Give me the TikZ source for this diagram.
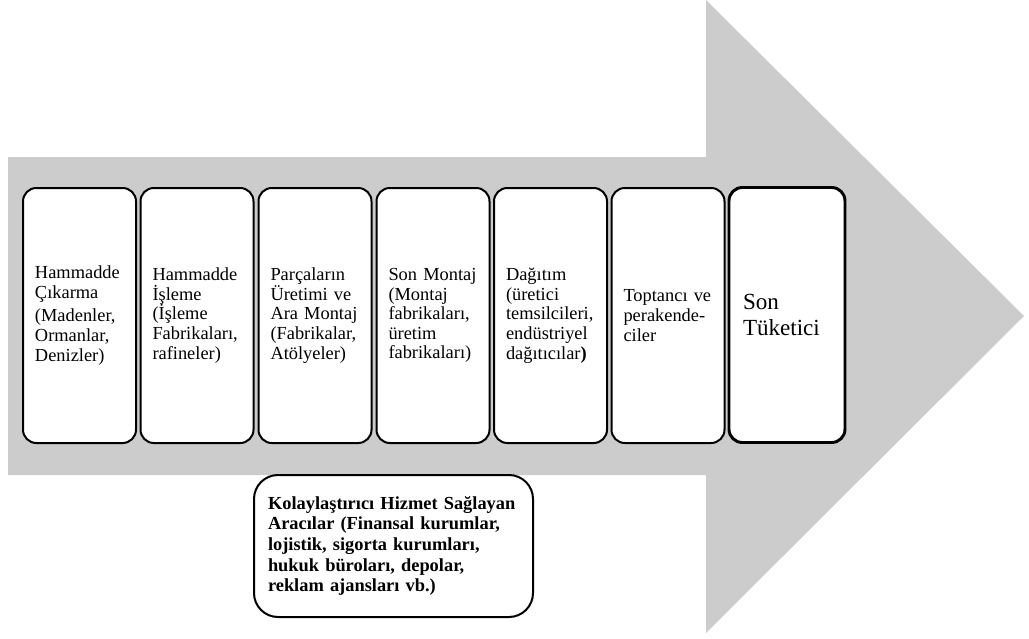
\documentclass[tikz,border=0pt]{standalone}
\usepackage{fontspec}
\setmainfont{Liberation Serif}
\definecolor{arrowgray}{RGB}{204,204,204}
\begin{document}
\begin{tikzpicture}[x=0.75pt,y=-0.75pt,
  stagebox/.style={draw=black, line width=1.5pt, fill=white, rounded corners=10pt,
    minimum height=191.25pt, text width=66.75pt, inner xsep=9pt, inner ysep=0pt,
    align=left, font=\fontsize{13.8}{14.7}\selectfont},
  lastbox/.style={stagebox, line width=2.2pt, text width=66pt, inner xsep=10.5pt,
    font=\fontsize{17.3}{20.2}\selectfont},
  servicebox/.style={draw=black, line width=1.5pt, fill=white, rounded corners=18pt,
    minimum height=106.5pt, text width=188.25pt, inner xsep=10.5pt, inner ysep=0pt,
    align=left, font=\fontsize{13.8}{15.4}\selectfont\bfseries}]
\useasboundingbox (0,0) rectangle (1029,639);
\fill[arrowgray] (8,157) -- (706,157) -- (706,0) -- (1024,316) -- (706,633)
  -- (706,475) -- (8,475) -- cycle;
\node[stagebox] (s1) at (79.5,315.5) {Hammadde\\Çıkarma\\[3pt](Madenler,\\Ormanlar,\\Denizler)};
\node[stagebox] (s2) at (197,315.5) {Hammadde\\İşleme\\(İşleme\\Fabrikaları,\\rafineler)};
\node[stagebox] (s3) at (315,315.5) {Parçaların\\Üretimi ve\\Ara Montaj\\(Fabrikalar,\\Atölyeler)};
\node[stagebox] (s4) at (433,315.5) {Son Montaj\\(Montaj\\fabrikaları,\\üretim\\fabrikaları)};
\node[stagebox] (s5) at (550.5,315.5) {Dağıtım\\(üretici\\temsilcileri,\\endüstriyel\\dağıtıcılar\textbf{)}};
\node[stagebox] (s6) at (668,315.5) {Toptancı ve\\perakende-\\ciler};
\node[lastbox] (s7) at (787,315) {Son\\Tüketici};
\node[servicebox] (sv) at (393.5,546) {Kolaylaştırıcı Hizmet Sağlayan\\Aracılar (Finansal kurumlar,\\lojistik, sigorta kurumları,\\hukuk büroları, depolar,\\reklam ajansları vb.)};
\end{tikzpicture}
\end{document}
